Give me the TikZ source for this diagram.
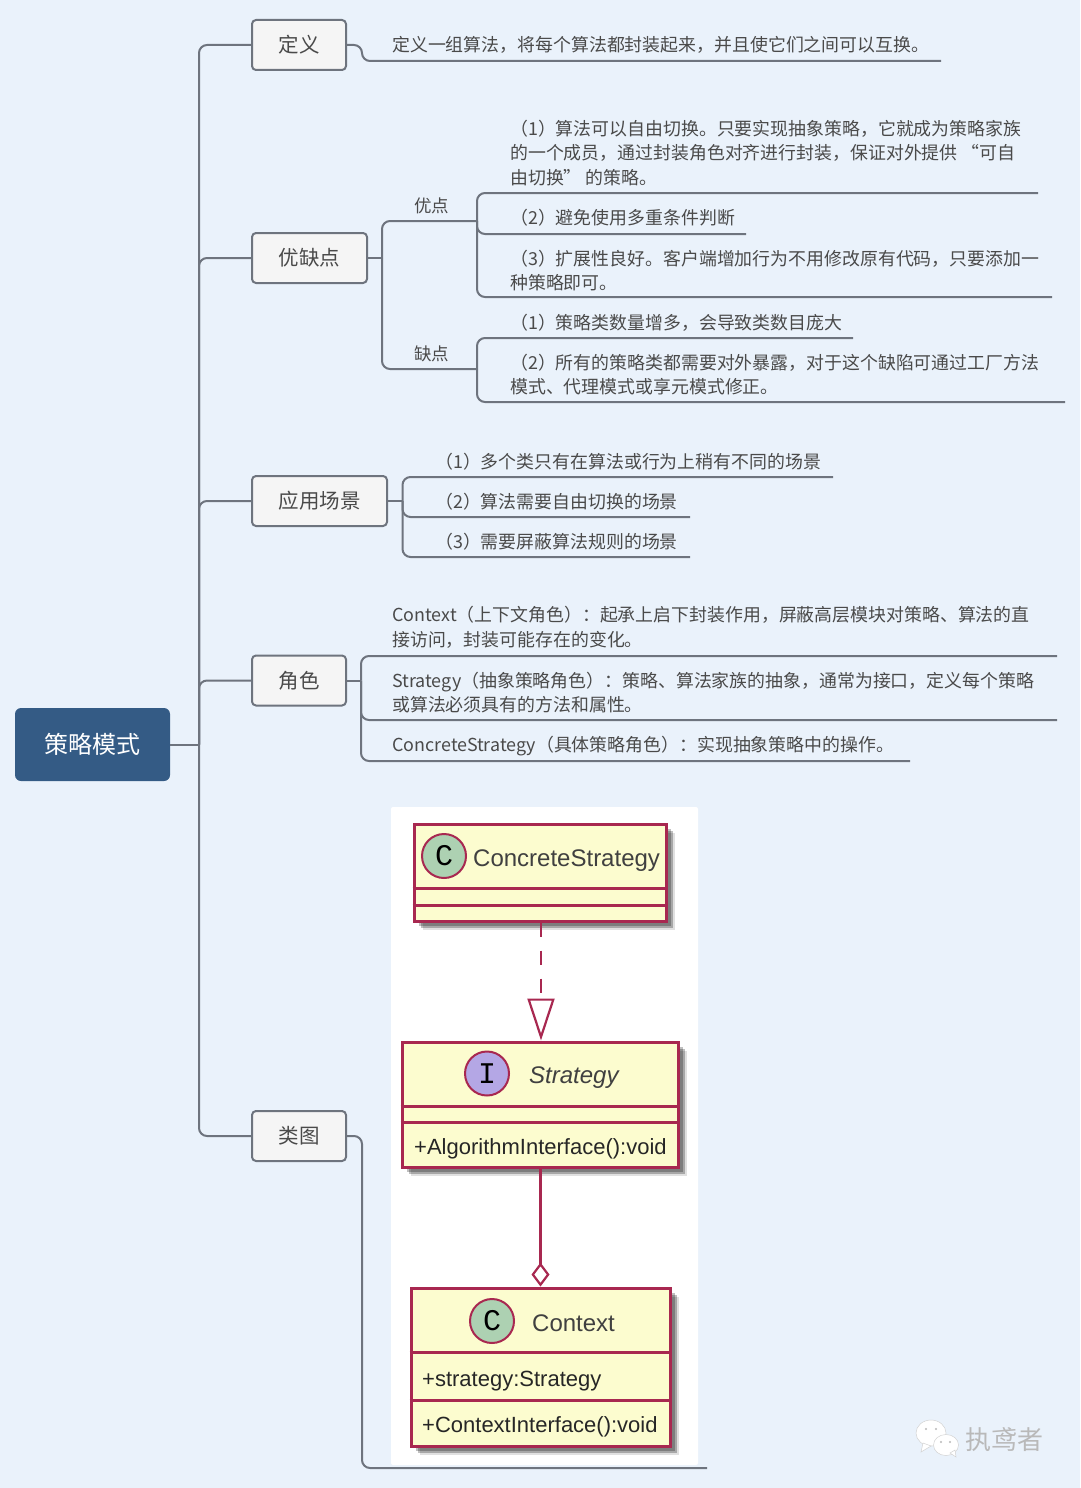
\documentclass[tikz,border=0pt]{standalone}
\usepackage{fontspec}
\setmainfont{Noto Sans CJK SC}
\newfontfamily\umlfont{Liberation Sans}
\newfontfamily\spotfont{Liberation Mono}
\usetikzlibrary{arrows.meta,shadows}
\definecolor{pagebg}{HTML}{EAF2FB}
\definecolor{rootblue}{HTML}{345B85}
\definecolor{wire}{HTML}{6E747E}
\definecolor{boxfill}{HTML}{F5F5F5}
\definecolor{inktext}{HTML}{4A4A4A}
\definecolor{umlred}{HTML}{A82850}
\definecolor{umlfill}{HTML}{FCFCCF}
\definecolor{spotgreen}{HTML}{ADD1B2}
\definecolor{spotpurple}{HTML}{B4A7E5}
\begin{document}
\begin{tikzpicture}[x=1pt,y=-1pt,
  rootbox/.style={fill=rootblue,rounded corners=6pt,minimum width=155pt,minimum height=73pt,text=white,font=\fontsize{24}{28}\selectfont},
  topicbox/.style={draw=wire,line width=2pt,fill=boxfill,rounded corners=4pt,minimum height=50pt,text=inktext,font=\fontsize{20.5}{24}\selectfont},
  leaf/.style={anchor=west,align=left,inner sep=0pt,text=inktext,font=\fontsize{17.9}{24.5}\selectfont},
  tag/.style={inner sep=0pt,text=inktext,font=\fontsize{17.5}{22}\selectfont},
  wireline/.style={draw=wire,line width=2pt},
  branch/.style={wireline,rounded corners=8pt},
  classbox/.style={draw=umlred,line width=3pt,fill=umlfill,inner sep=0pt,
    general shadow={shadow xshift=9pt,shadow yshift=-9pt,opacity=.12,fill=black},
    general shadow={shadow xshift=7pt,shadow yshift=-7pt,opacity=.25,fill=black},
    general shadow={shadow xshift=5pt,shadow yshift=-5pt,opacity=.25,fill=black}},
  classrule/.style={draw=umlred,line width=3pt},
  classlink/.style={draw=umlred,line width=2.2pt},
  spot/.style={circle,draw=umlred,line width=2pt,minimum size=44pt,inner sep=0pt,font=\spotfont\fontsize{30}{30}\selectfont},
  classname/.style={inner sep=0pt,text=black!75,font=\umlfont\fontsize{24}{28}\selectfont},
  member/.style={anchor=west,inner sep=0pt,text=black!85,font=\umlfont\fontsize{22}{26}\selectfont}]
  \useasboundingbox (0,0) rectangle (1080,1488);
  \fill[pagebg] (0,0) rectangle (1080,1488);
  \fill[white,rounded corners=2pt] (391,807) rectangle (698,1465);

  \node[rootbox] (root) at (92.5,744.5) {策略模式};
  \node[topicbox,minimum width=94pt] (defbox) at (299,45) {定义};
  \node[topicbox,minimum width=115pt] (probox) at (309.5,258) {优缺点};
  \node[topicbox,minimum width=135pt] (scenebox) at (319.5,501) {应用场景};
  \node[topicbox,minimum width=94pt] (rolebox) at (299,680.5) {角色};
  \node[topicbox,minimum width=94pt] (diagbox) at (299,1136) {类图};

  \coordinate (trunk) at (199,744.5);
  \draw[wireline] (root.east) -- (trunk);
  \foreach \name in {defbox,probox,scenebox,rolebox,diagbox} {
    \draw[branch] (trunk) |- (\name.west);
  }

  \node[leaf] (deftext) at (392,45) {定义一组算法，将每个算法都封装起来，并且使它们之间可以互换。};
  \coordinate (defend) at (941,61);
  \draw[branch] (defbox.east) -- ++(15,0) |- (defend);

  \coordinate (prosplit) at (382,258);
  \coordinate (prosbar) at (477,221);
  \coordinate (consbar) at (477,369);
  \draw[wireline] (probox.east) -- (prosplit);
  \draw[branch] (prosplit) |- (prosbar);
  \draw[branch] (prosplit) |- (consbar);
  \node[tag] (protag) at (431.5,205.5) {优点};
  \node[tag] (contag) at (431.5,353.5) {缺点};

  \node[leaf] (proone) at (510,153) {（1）算法可以自由切换。只要实现抽象策略，它就成为策略家族\\的一个成员，通过封装角色对齐进行封装，保证对外提供 “可自\\由切换” 的策略。};
  \node[leaf] (protwo) at (510,217.5) {（2）避免使用多重条件判断};
  \node[leaf] (prothree) at (510,270.5) {（3）扩展性良好。客户端增加行为不用修改原有代码，只要添加一\\种策略即可。};
  \node[leaf] (conone) at (510,322.5) {（1）策略类数量增多，会导致类数目庞大};
  \node[leaf] (contwo) at (510,374.5) {（2）所有的策略类都需要对外暴露，对于这个缺陷可通过工厂方法\\模式、代理模式或享元模式修正。};
  \foreach \name/\x/\y in {a/1038/193,b/746/234,c/1052/297} {
    \coordinate (proend\name) at (\x,\y);
    \draw[branch] (prosbar) |- (proend\name);
  }
  \foreach \name/\x/\y in {a/853/338,b/1065/402} {
    \coordinate (conend\name) at (\x,\y);
    \draw[branch] (consbar) |- (conend\name);
  }

  \coordinate (scenesplit) at (402.5,501);
  \draw[wireline] (scenebox.east) -- (scenesplit);
  \foreach \name/\txt/\x/\y in {a/{（1）多个类只有在算法或行为上稍有不同的场景}/833/477,b/{（2）算法需要自由切换的场景}/690/517,c/{（3）需要屏蔽算法规则的场景}/690/557} {
    \node[leaf] (scene\name) at (435,\y-15.5) {\txt};
    \coordinate (sceneend\name) at (\x,\y);
    \draw[branch] (scenesplit) |- (sceneend\name);
  }

  \coordinate (rolesplit) at (361,680.5);
  \draw[wireline] (rolebox.east) -- (rolesplit);
  \node[leaf] (roleone) at (392,627.5) {Context（上下文角色）：起承上启下封装作用，屏蔽高层模块对策略、算法的直\\接访问，封装可能存在的变化。};
  \node[leaf] (roletwo) at (392,692.5) {Strategy（抽象策略角色）：策略、算法家族的抽象，通常为接口，定义每个策略\\或算法必须具有的方法和属性。};
  \node[leaf] (rolethree) at (392,746.5) {ConcreteStrategy（具体策略角色）：实现抽象策略中的操作。};
  \foreach \name/\x/\y in {a/1057/656,b/1057/720,c/910/761} {
    \coordinate (roleend\name) at (\x,\y);
    \draw[branch] (rolesplit) |- (roleend\name);
  }

  \coordinate (diagend) at (707,1468);
  \draw[branch] (diagbox.east) -- ++(15,0) |- (diagend);

  \node[classbox,minimum width=252pt,minimum height=97pt] (concrete) at (540,872.5) {};
  \node[classbox,minimum width=276pt,minimum height=125pt] (strategy) at (540,1104.5) {};
  \node[classbox,minimum width=259pt,minimum height=158pt] (context) at (540.5,1367) {};
  \foreach \name/\y in {concrete/888,concrete/905,strategy/1106,strategy/1122,context/1352,context/1400} {
    \draw[classrule] (\name.west |- 0,\y) -- (\name.east |- 0,\y);
  }
  \draw[classlink,dash pattern=on 14pt off 14pt,-{Triangle[open,fill=white,length=42pt,width=27pt]}] ([xshift=1pt]concrete.south) -- ([xshift=1pt]concrete.south |- strategy.north);
  \draw[classlink,{Diamond[open,fill=white,length=24pt,width=18pt]}-] (context.north) -- (context.north |- strategy.south);

  \node[spot,fill=spotgreen] (spotconcrete) at (444,856) {C};
  \node[classname,anchor=west] (nameconcrete) at (473,861) {ConcreteStrategy};
  \node[spot,fill=spotpurple] (spotstrategy) at (487,1073.5) {I};
  \node[classname,anchor=west,font=\umlfont\itshape\fontsize{24}{28}\selectfont] (namestrategy) at (529,1078) {Strategy};
  \node[member] (algo) at (414,1149) {+AlgorithmInterface():void};
  \node[spot,fill=spotgreen] (spotcontext) at (492,1321) {C};
  \node[classname,anchor=west] (namecontext) at (532,1323) {Context};
  \node[member] (field) at (422,1381) {+strategy:Strategy};
  \node[member] (method) at (422,1427) {+ContextInterface():void};

  \fill[white,draw=gray!35,line width=.5pt] (931,1433) ellipse [x radius=15pt,y radius=13pt];
  \fill[white,draw=gray!35,line width=.5pt] (923,1443) -- (921,1452) -- (931,1446) -- cycle;
  \fill[white,draw=gray!35,line width=.5pt] (946,1445) ellipse [x radius=12.5pt,y radius=10.5pt];
  \fill[white,draw=gray!35,line width=.5pt] (950,1453) -- (956,1457) -- (955,1450) -- cycle;
  \foreach \x/\y in {926/1429,936/1429,941/1442,950/1442} {
    \fill[gray!55] (\x,\y) circle [radius=1.2pt];
  }
  \node[inner sep=0pt,text=gray!55,font=\fontsize{26}{30}\selectfont] (mark) at (1004.5,1440) {执鸢者};
\end{tikzpicture}
\end{document}
